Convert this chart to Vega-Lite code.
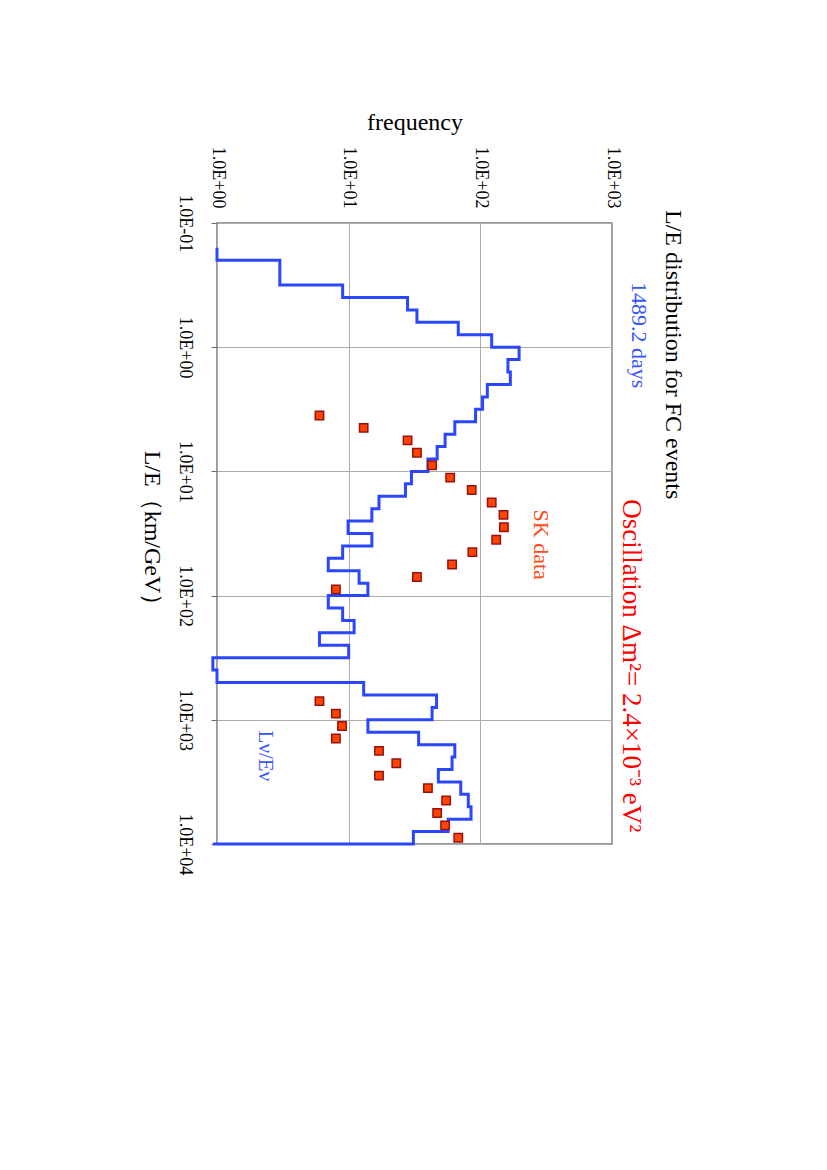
{
  "$schema": "https://vega.github.io/schema/vega-lite/v6.json",
  "autosize": "none",
  "padding": {"left": 217, "top": 223, "right": 215, "bottom": 326},
  "width": 395,
  "height": 621,
  "title": {
    "text": "L/E distribution for FC events",
    "orient": "right",
    "anchor": "start",
    "frame": "group",
    "angle": 90,
    "baseline": "bottom",
    "offset": -13,
    "dx": -13,
    "fontSize": 24,
    "fontWeight": "normal",
    "color": "black"
  },
  "datasets": {
    "hist": [
      {"le": 0.1585, "f": 1},
      {"le": 0.1995, "f": 3.0},
      {"le": 0.2512, "f": 3.0},
      {"le": 0.3162, "f": 9.0},
      {"le": 0.3981, "f": 28},
      {"le": 0.5012, "f": 33},
      {"le": 0.631, "f": 68},
      {"le": 0.7943, "f": 122},
      {"le": 1, "f": 197},
      {"le": 1.259, "f": 162},
      {"le": 1.585, "f": 169},
      {"le": 1.995, "f": 113},
      {"le": 2.512, "f": 104},
      {"le": 3.162, "f": 92},
      {"le": 3.981, "f": 64},
      {"le": 5.012, "f": 54},
      {"le": 6.31, "f": 47},
      {"le": 7.943, "f": 40},
      {"le": 10, "f": 30},
      {"le": 12.59, "f": 27},
      {"le": 15.85, "f": 17},
      {"le": 19.95, "f": 15},
      {"le": 25.12, "f": 9.9},
      {"le": 31.62, "f": 15},
      {"le": 39.81, "f": 9.0},
      {"le": 50.12, "f": 7.0},
      {"le": 63.1, "f": 12},
      {"le": 79.43, "f": 14},
      {"le": 100, "f": 7.0},
      {"le": 125.9, "f": 9.0},
      {"le": 158.5, "f": 11},
      {"le": 199.5, "f": 6.0},
      {"le": 251.2, "f": 10},
      {"le": 316.2, "f": 0.93},
      {"le": 398.1, "f": 1},
      {"le": 501.2, "f": 13},
      {"le": 631, "f": 46.5},
      {"le": 794.3, "f": 43},
      {"le": 1000, "f": 14},
      {"le": 1259, "f": 34},
      {"le": 1585, "f": 64},
      {"le": 1995, "f": 61},
      {"le": 2512, "f": 48},
      {"le": 3162, "f": 71},
      {"le": 3981, "f": 81},
      {"le": 5012, "f": 85},
      {"le": 6310, "f": 57},
      {"le": 7943, "f": 31},
      {"le": 10000, "f": 0.93}
    ],
    "sk": [
      {"le": 3.548, "f": 6.0},
      {"le": 4.467, "f": 13},
      {"le": 5.623, "f": 28},
      {"le": 7.079, "f": 33},
      {"le": 8.913, "f": 43},
      {"le": 11.22, "f": 59},
      {"le": 14.13, "f": 86},
      {"le": 17.78, "f": 122},
      {"le": 22.39, "f": 150},
      {"le": 28.18, "f": 151},
      {"le": 35.48, "f": 132},
      {"le": 44.67, "f": 87},
      {"le": 56.23, "f": 61},
      {"le": 70.79, "f": 33},
      {"le": 89.13, "f": 8.0},
      {"le": 707.9, "f": 6.0},
      {"le": 891.3, "f": 8.0},
      {"le": 1122, "f": 8.9},
      {"le": 1413, "f": 8.0},
      {"le": 1778, "f": 17},
      {"le": 2239, "f": 23},
      {"le": 2818, "f": 17},
      {"le": 3548, "f": 40},
      {"le": 4467, "f": 55},
      {"le": 5623, "f": 47},
      {"le": 7079, "f": 54},
      {"le": 8913, "f": 68}
    ]
  },
  "encoding": {
    "x": {
      "field": "f",
      "type": "quantitative",
      "scale": {"type": "log", "domain": [1, 1000], "nice": false},
      "axis": {
        "orient": "top",
        "title": "frequency",
        "values": [1, 10, 100, 1000],
        "labelExpr": "'1.0E' + (datum.value < 1 ? '-0' : '+0') + abs(round(log(datum.value) / LN10))",
        "labelAngle": 90,
        "labelAlign": "right",
        "labelBaseline": "middle",
        "labelPadding": 15,
        "labelFontSize": 18,
        "labelColor": "black",
        "labelOverlap": false,
        "ticks": false,
        "domain": false,
        "grid": true,
        "gridColor": "#ababab",
        "gridWidth": 1,
        "titleFontSize": 24,
        "titleFontWeight": "normal",
        "titleColor": "black",
        "titleBaseline": "bottom",
        "titlePadding": 12
      }
    },
    "y": {
      "field": "le",
      "type": "quantitative",
      "scale": {"type": "log", "domain": [0.1, 10000], "nice": false, "reverse": true},
      "axis": {
        "orient": "left",
        "title": "L/E（km/GeV）",
        "values": [0.1, 1, 10, 100, 1000, 10000],
        "labelExpr": "'1.0E' + (datum.value < 1 ? '-0' : '+0') + abs(round(log(datum.value) / LN10))",
        "labelAngle": 90,
        "labelAlign": "center",
        "labelBaseline": "top",
        "labelPadding": 18,
        "labelFontSize": 18,
        "labelColor": "black",
        "labelOverlap": false,
        "tickSize": 6,
        "tickColor": "#707070",
        "domain": false,
        "grid": true,
        "gridColor": "#ababab",
        "gridWidth": 1,
        "titleAngle": 90,
        "titleAlign": "center",
        "titleBaseline": "top",
        "titleFontSize": 24,
        "titleFontWeight": "normal",
        "titleColor": "black",
        "titlePadding": 12
      }
    }
  },
  "layer": [
    {
      "data": {"name": "hist"},
      "mark": {"type": "line", "interpolate": "step-before", "color": "#2a46ff", "strokeWidth": 3},
      "encoding": {"order": {"field": "le", "type": "quantitative"}}
    },
    {
      "data": {"name": "sk"},
      "mark": {"type": "point", "shape": "square", "filled": true, "size": 70, "fill": "#ff4400", "stroke": "#9a1010", "strokeWidth": 1.5, "opacity": 1}
    },
    {
      "data": {"values": [{"le": 0.801, "f": 1409, "label": "1489.2 days"}]},
      "mark": {"type": "text", "angle": 90, "align": "center", "baseline": "alphabetic", "fontSize": 22, "color": "#3355ff"},
      "encoding": {"text": {"field": "label"}}
    },
    {
      "data": {"values": [{"le": 368, "f": 1213, "label": "Oscillation Δm²= 2.4×10⁻³ eV²"}]},
      "mark": {"type": "text", "angle": 90, "align": "center", "baseline": "alphabetic", "fontSize": 27, "color": "#ff0000"},
      "encoding": {"text": {"field": "label"}}
    },
    {
      "data": {"values": [{"le": 38.9, "f": 256, "label": "SK data"}]},
      "mark": {"type": "text", "angle": 90, "align": "center", "baseline": "alphabetic", "fontSize": 22, "color": "#ff4a12"},
      "encoding": {"text": {"field": "label"}}
    },
    {
      "data": {"values": [{"le": 1950, "f": 2.08, "label": "Lν/Eν"}]},
      "mark": {"type": "text", "angle": 90, "align": "center", "baseline": "alphabetic", "fontSize": 21, "color": "#3355ff"},
      "encoding": {"text": {"field": "label"}}
    }
  ],
  "config": {
    "font": "Liberation Serif",
    "view": {"stroke": "#7a7a7a", "strokeWidth": 1.5}
  }
}
